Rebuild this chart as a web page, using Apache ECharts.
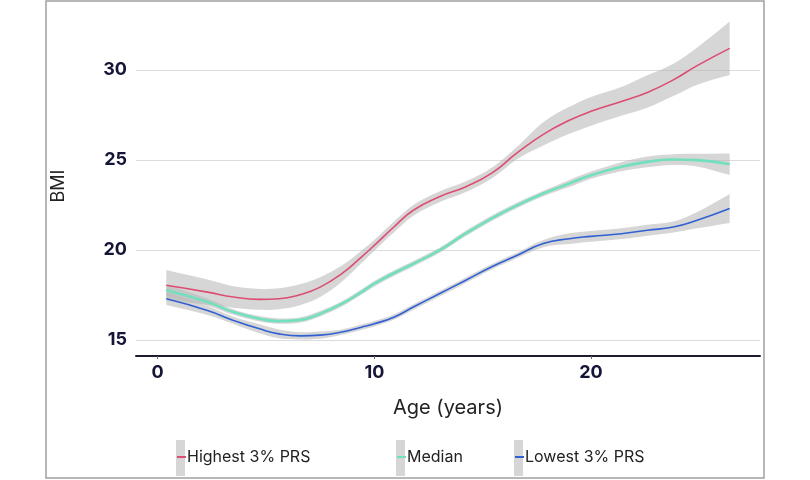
<!DOCTYPE html>
<html>
<head>
<meta charset="utf-8">
<script src="https://cdn.jsdelivr.net/npm/echarts@6/dist/echarts.min.js"></script>
<style>html,body{margin:0;padding:0;background:#fff;}#c{width:810px;height:480px;}</style>
</head>
<body>
<div id="c"></div>
<script>
const ages = [0.4,2.3,3.5,4.7,5.6,6.6,7.5,8.5,9.4,10,10.9,11.8,13,14.2,15.4,16.6,17.8,19,20,21.4,22.6,23.8,24.9,26.4];

const highMean = [18.03,17.65,17.38,17.25,17.28,17.52,17.93,18.68,19.6,20.25,21.27,22.2,22.95,23.5,24.25,25.4,26.42,27.2,27.7,28.25,28.75,29.45,30.24,31.2];
const highLo   = [17.18,16.95,16.78,16.67,16.70,16.94,17.38,18.23,19.25,19.95,20.97,21.9,22.65,23.2,23.95,25.05,25.8,26.45,26.9,27.45,27.9,28.55,29.18,29.72];
const highHi   = [18.88,18.35,17.98,17.83,17.86,18.10,18.48,19.13,19.95,20.55,21.57,22.5,23.25,23.8,24.55,25.75,27.1,27.95,28.5,29.05,29.7,30.35,31.25,32.7];

const medMean = [17.75,17.1,16.54,16.17,16.04,16.11,16.45,17.0,17.65,18.12,18.7,19.23,19.97,20.9,21.74,22.48,23.13,23.69,24.15,24.62,24.89,25.02,24.99,24.76];
const medLo   = [17.45,16.9,16.39,16.02,15.89,15.96,16.3,16.85,17.5,17.97,18.55,19.08,19.82,20.75,21.59,22.33,22.98,23.49,23.95,24.37,24.59,24.72,24.64,24.16];
const medHi   = [18.05,17.3,16.69,16.32,16.19,16.26,16.6,17.15,17.8,18.27,18.85,19.38,20.12,21.05,21.89,22.63,23.28,23.89,24.35,24.87,25.19,25.32,25.34,25.36];

const lowMean = [17.28,16.63,16.08,15.61,15.33,15.22,15.26,15.43,15.7,15.89,16.26,16.82,17.56,18.3,19.05,19.7,20.35,20.62,20.75,20.9,21.09,21.27,21.65,22.3];
const lowLo   = [16.93,16.38,15.88,15.36,15.08,15.02,15.06,15.28,15.55,15.74,16.11,16.67,17.41,18.15,18.9,19.55,20.15,20.32,20.45,20.6,20.79,20.97,21.2,21.5];
const lowHi   = [17.63,16.88,16.28,15.86,15.58,15.42,15.46,15.58,15.85,16.04,16.41,16.97,17.71,18.45,19.2,19.85,20.55,20.92,21.05,21.2,21.39,21.57,22.1,23.1];

const seriesNames = ['Highest 3% PRS','Median','Lowest 3% PRS'];
const xTicks = [0,10,20];
const yTicks = [15,20,25,30];

const lineColors = ['#dc4d72','#72dfbe','#3160d2'];
const bandColor = 'rgba(185,185,185,0.58)';
const labelFont = 'Inter, "Noto Sans", sans-serif';

const groups = [
  {name: seriesNames[0], mean: highMean, lo: highLo, hi: highHi, color: lineColors[0], width: 1.6},
  {name: seriesNames[1], mean: medMean, lo: medLo, hi: medHi, color: lineColors[1], width: 2.6},
  {name: seriesNames[2], mean: lowMean, lo: lowLo, hi: lowHi, color: lineColors[2], width: 1.6}
];

function makeBandRenderer(lo, hi) {
  return function (params, api) {
    if (params.dataIndex !== 0) return null;
    const upper = ages.map((a, k) => api.coord([a, hi[k]]));
    const lower = ages.map((a, k) => api.coord([a, lo[k]])).reverse();
    const last = upper.length - 1;
    // duplicated end points keep the band ends cut straight
    const pts = [upper[0]];
    upper.forEach((p, k) => { pts.push(p); if (k === last) pts.push(p); });
    lower.forEach((p, k) => { if (k === 0) pts.push(p); pts.push(p); if (k === last) pts.push(p); });
    return {
      type: 'polygon',
      shape: {points: pts, smooth: 0.35},
      style: {fill: bandColor, stroke: null},
      silent: true
    };
  };
}

const series = [];
groups.forEach((g) => {
  series.push({
    name: g.name, type: 'custom', renderItem: makeBandRenderer(g.lo, g.hi), silent: true,
    encode: {x: 0, y: [1, 2]},
    data: ages.map((a, k) => [a, g.lo[k], g.hi[k]]), z: 1,
    itemStyle: {color: '#d6d6d6'}
  });
});
groups.forEach((g) => {
  series.push({
    name: g.name, type: 'line', smooth: 0.5, symbol: 'none',
    lineStyle: {color: g.color, width: g.width}, itemStyle: {color: g.color},
    data: ages.map((a, k) => [a, g.mean[k]]), z: 3
  });
});

const legendLefts = [176, 396, 514];
const legends = [];
seriesNames.forEach((nm, i) => {
  // gray band swatch
  legends.push({
    left: legendLefts[i], top: 440, padding: 0, selectedMode: false,
    icon: 'rect', itemWidth: 9, itemHeight: 36,
    data: [{name: nm, itemStyle: {color: '#d6d6d6'}}],
    formatter: function () { return ''; }
  });
  // coloured line swatch plus label
  legends.push({
    left: legendLefts[i] + 1, top: 449, padding: 0, selectedMode: false,
    icon: 'rect', itemWidth: 9, itemHeight: 2,
    data: [{name: nm, itemStyle: {color: lineColors[i]}}],
    textStyle: {fontFamily: labelFont, fontSize: 16, color: '#222', padding: [0, 0, 0, -4]}
  });
});

const chart = echarts.init(document.getElementById('c'), null, {renderer: 'canvas'});
chart.setOption({
  animation: false,
  backgroundColor: '#fff',
  graphic: [{
    type: 'rect', shape: {x: 46, y: 1, width: 718, height: 477},
    style: {fill: 'none', stroke: '#a0a0a0', lineWidth: 1.5}, silent: true, z: -10
  }],
  grid: {left: 136, right: 50, top: 16, bottom: 124},
  xAxis: {
    type: 'value', min: -1, max: 27.8,
    name: 'Age (years)', nameLocation: 'middle', nameGap: 42,
    nameTextStyle: {fontFamily: labelFont, fontSize: 20, color: '#222'},
    axisLine: {show: true, onZero: false, lineStyle: {color: '#1c1c2c', width: 2}},
    axisTick: {show: true, length: 3, inside: false, customValues: xTicks, lineStyle: {color: '#666', width: 1}},
    axisLabel: {customValues: xTicks, margin: 8, fontFamily: labelFont, fontWeight: 'bold', fontSize: 18, color: '#151538'},
    splitLine: {show: false}
  },
  yAxis: {
    type: 'value', min: 14.1, max: 33,
    name: 'BMI', nameLocation: 'middle', nameGap: 68, nameRotate: 90,
    nameTextStyle: {fontFamily: labelFont, fontSize: 18, color: '#222'},
    axisLine: {show: false},
    axisTick: {show: false, customValues: yTicks},
    axisLabel: {customValues: yTicks, margin: 9, fontFamily: labelFont, fontWeight: 'bold', fontSize: 18, color: '#151538'},
    splitLine: {show: true, lineStyle: {color: '#dcdcdc', width: 1}}
  },
  legend: legends,
  series: series
});
</script>
</body>
</html>
